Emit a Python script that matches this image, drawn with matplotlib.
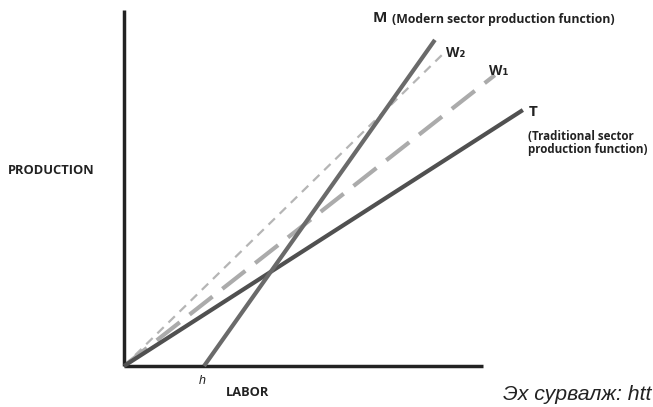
import matplotlib
matplotlib.use("Agg")
import matplotlib.pyplot as plt

# Line endpoints (labor, production) in arbitrary units
m_x = [22.3, 86.6]
m_y = [0.0, 91.6]
w2_x = [0.0, 88.6]
w2_y = [0.0, 87.4]
w1_x = [0.0, 103.3]
w1_y = [0.0, 81.7]
t_x = [0.0, 111.1]
t_y = [0.0, 71.9]
h_value = 22.3

W, H = 653, 407
fig = plt.figure(figsize=(W / 100, H / 100), dpi=100)
ax = fig.add_axes([124 / W, (H - 366) / H, (483 - 124) / W, 356 / H])
ax.set_xlim(0, 100)
ax.set_ylim(0, 100)
for s in ["top", "right"]:
    ax.spines[s].set_visible(False)
for s in ["left", "bottom"]:
    ax.spines[s].set_linewidth(2.5)
    ax.spines[s].set_color("#222222")
    ax.spines[s].set_capstyle("butt")
ax.set_xticks([])
ax.set_yticks([])

ax.plot(w2_x, w2_y, color="#b5b5b5", lw=1.6, dashes=(4, 3), clip_on=False, zorder=2)
ax.plot(w1_x, w1_y, color="#ababab", lw=3, dashes=(7, 3), clip_on=False, zorder=2)
ax.plot(t_x, t_y, color="#505050", lw=3, clip_on=False, zorder=3, solid_capstyle="butt")
ax.plot(m_x, m_y, color="#6a6a6a", lw=3, clip_on=False, zorder=3, solid_capstyle="butt")

bold = dict(family=["Open Sans", "DejaVu Sans"], fontweight="bold", color="#222222")

def px(x, y, s, **kw):
    fig.text(x / W, 1 - y / H, s, **kw)

px(373, 18, "M", fontsize=11, va="center", ha="left", **bold)
px(392, 19, "(Modern sector production function)", fontsize=8.8, va="center", ha="left", **bold)
px(446, 53, "W₂", fontsize=10, va="center", ha="left", **bold)
px(489, 71, "W₁", fontsize=10, va="center", ha="left", **bold)
px(529, 112, "T", fontsize=11, va="center", ha="left", **bold)
px(528, 136, "(Traditional sector", fontsize=8.4, va="center", ha="left", **bold)
px(528, 150, "production function)", fontsize=8.4, va="center", ha="left", **bold)
px(51, 170, "PRODUCTION", fontsize=9.3, va="center", ha="center", **bold)
px(248, 393, "LABOR", fontsize=9.3, va="center", ha="center", **bold)
ax.text(h_value - 0.5, -2.5, "h", fontsize=9, style="italic", ha="center", va="top",
        family="Liberation Sans", color="#222222", transform=ax.transData)
px(651, 395, "Эх сурвалж: htt", fontsize=15.3, style="italic", va="center", ha="right",
   family="Liberation Sans", color="#222222")

fig.savefig("out.png", dpi=100)
